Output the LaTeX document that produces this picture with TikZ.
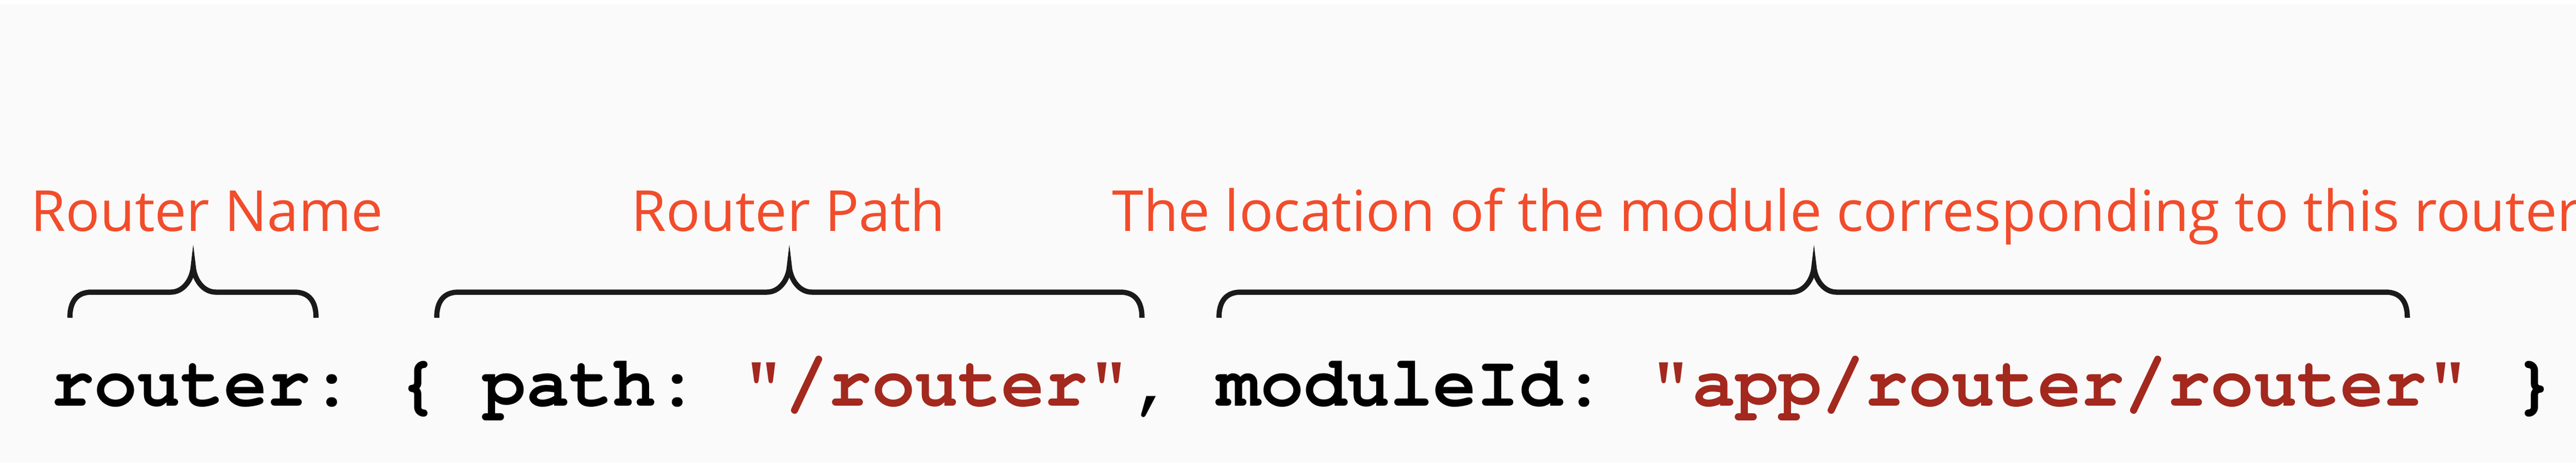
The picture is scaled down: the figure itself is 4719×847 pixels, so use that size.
\documentclass[tikz,border=0pt]{standalone}
\usepackage[T1]{fontenc}
\usepackage{fontspec}
\setmainfont{Open Sans}
\usepackage{tikz}
\definecolor{labelred}{HTML}{F24C2B}
\definecolor{stringred}{HTML}{A3281E}
\definecolor{pagegray}{HTML}{FAFAFA}
\definecolor{braceblack}{HTML}{1A1A1A}
\tikzset{
  labeltext/.style={text=labelred, inner sep=0pt, anchor=base west, font=\fontsize{29.5}{32}\selectfont},
  codetext/.style={inner sep=0pt, anchor=base west, font=\fontencoding{T1}\fontfamily{pcr}\fontseries{b}\fontsize{37.5}{40}\selectfont\frenchspacing},
  bracepen/.style={draw=braceblack, line width=9.5pt*0.2845}
}
% brace over the code: (left x : tip x : right x)
\def\topbrace(#1:#2:#3){\draw[bracepen] (#1, 582) .. controls (#1, 553) and (#1+12, 535) .. (#1+40, 535)
  -- (#2-41, 535) .. controls (#2-18, 535) and (#2-2, 512) .. (#2, 488)
  .. controls (#2+2, 512) and (#2+18, 535) .. (#2+41, 535)
  -- (#3-40, 535) .. controls (#3-12, 535) and (#3, 553) .. (#3, 582);}
\newcommand{\str}[1]{\textcolor{stringred}{#1}}

\begin{document}
\begin{tikzpicture}[x=0.01cm, y=-0.01cm]
		%%%%% START %%%%%
		\useasboundingbox (0, 0) rectangle (4719, 847);
		\clip (0, 0) rectangle (4719, 847);
		\fill[white] (0, 0) rectangle (4719, 847);
		\fill[pagegray] (0, 8) rectangle (4719, 847);
		
		\node[labeltext] (namelabel) at (56, 423) {Router Name};
		\node[labeltext] (pathlabel) at (1156, 423) {Router Path};
		\node[labeltext] (modlabel) at (2037, 423) {The location of the module corresponding to this router};
		
		\topbrace(128:354:579)
		\topbrace(800:1446:2092)
		\topbrace(2233:3323:4410)
		
		\node[codetext] (code) at (93, 743) {router: \{ path: \str{"/router"}, moduleId: \str{"app/router/router"} \}};
		%%%%% END %%%%%
	\end{tikzpicture}
\end{document}
